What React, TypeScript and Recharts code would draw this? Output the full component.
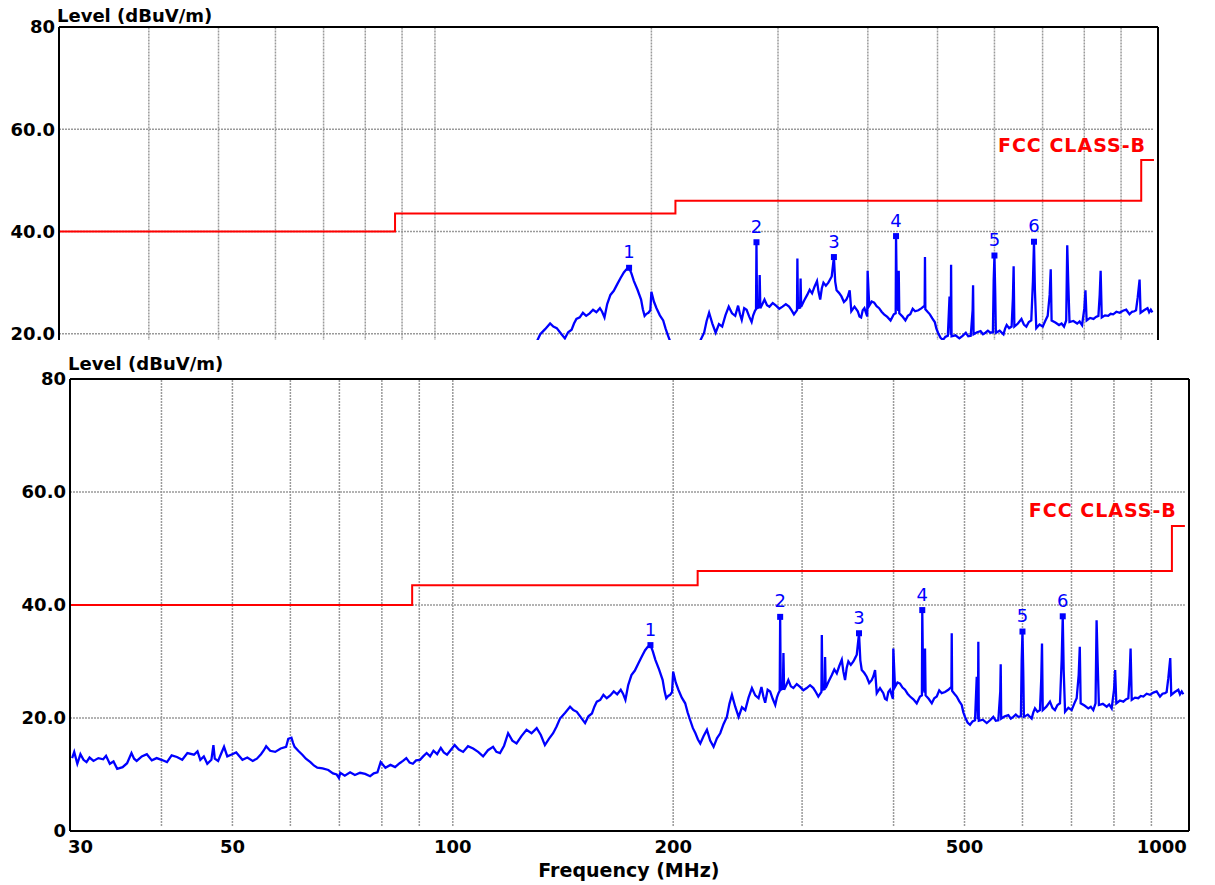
import React from 'react';
import { ComposedChart, Line, Scatter, XAxis, YAxis, ReferenceLine, ReferenceDot, LabelList } from 'recharts';

const traceFreq = [
  30.2, 30.4, 30.7, 31.0, 31.3, 31.6, 31.9, 32.3, 32.8, 33.3, 33.6, 34.0, 34.4, 34.8, 35.4, 35.9, 36.4, 36.7, 37.0, 37.6,
  38.2, 38.8, 39.4, 40.0, 40.7, 41.3, 42.0, 42.7, 43.4, 44.3, 44.8, 45.2, 45.7, 46.2, 46.8, 47.1, 47.3, 47.8, 48.3, 48.7,
  49.2, 49.8, 50.6, 51.6, 52.4, 53.3, 54.0, 54.7, 55.2, 55.6, 56.3, 57.2, 58.2, 59.2, 59.6, 60.2, 60.5, 60.8, 61.5, 62.3,
  63.0, 63.9, 64.6, 65.3, 66.4, 67.6, 68.6, 69.4, 69.9, 70.2, 71.2, 72.4, 73.5, 74.7, 75.9, 77.1, 78.0, 78.9, 79.7, 80.9,
  82.2, 83.4, 84.6, 85.5, 86.4, 87.3, 88.2, 89.1, 90.2, 91.1, 92.1, 93.1, 94.1, 95.2, 96.3, 97.2, 98.2, 99.3, 100.6, 101.9,
  103.3, 104.9, 106.6, 108.3, 110.0, 111.7, 113.5, 114.7, 116.0, 117.5, 119.0, 120.6, 122.2, 124.1, 126.1, 128.1, 130.2, 131.9, 133.6, 135.3,
  137.1, 138.6, 140.1, 142.3, 144.6, 146.1, 147.7, 149.6, 151.6, 153.2, 154.9, 156.1, 157.3, 159.0, 160.6, 162.3, 164.1, 165.9, 167.7, 169.6,
  170.8, 172.1, 173.6, 175.4, 177.3, 179.3, 181.2, 183.1, 184.6, 186.2, 187.6, 189.1, 191.3, 193.5, 194.6, 195.7, 196.9, 198.1, 199.3, 200.0,
  201.6, 203.3, 205.5, 207.7, 209.3, 211.0, 212.8, 214.5, 216.2, 217.8, 220.1, 222.4, 224.7, 227.1, 229.5, 231.9, 234.3, 236.8, 238.7, 240.6,
  243.1, 245.7, 248.3, 250.9, 253.5, 256.2, 258.9, 261.6, 264.0, 265.6, 267.1, 269.2, 271.3, 273.5, 275.7, 277.1, 278.5, 279.6, 280.0, 280.5,
  282.4, 282.9, 283.5, 285.4, 287.3, 289.6, 291.9, 295.0, 298.1, 301.2, 304.4, 307.6, 310.8, 313.2, 315.7, 318.8, 319.2, 319.8, 322.0, 322.5,
  323.1, 326.2, 329.4, 332.0, 334.6, 337.2, 339.9, 341.6, 343.4, 345.2, 347.0, 349.7, 352.5, 354.4, 356.3, 358.8, 360.3, 361.9, 364.7, 367.6,
  370.5, 373.4, 375.4, 377.4, 379.4, 383.3, 387.3, 389.4, 391.5, 393.5, 395.6, 399.2, 399.7, 401.8, 405.0, 408.2, 411.4, 414.7, 418.0, 421.3,
  425.7, 430.2, 434.7, 437.3, 437.8, 439.0, 441.0, 441.6, 442.4, 446.7, 451.1, 454.6, 458.2, 461.8, 465.4, 470.3, 475.2, 479.8, 480.3, 480.9,
  484.3, 487.9, 491.7, 495.6, 498.2, 500.8, 504.8, 508.8, 512.8, 516.8, 519.6, 521.6, 522.2, 523.0, 529.6, 536.2, 541.8, 547.4, 551.7, 556.1,
  559.5, 560.3, 561.2, 567.5, 573.9, 578.4, 582.9, 587.5, 592.1, 597.0, 598.5, 600.0, 601.5, 602.7, 610.1, 617.6, 620.8, 624.0, 628.9, 633.9,
  636.5, 638.0, 639.5, 646.8, 654.2, 659.3, 664.5, 669.8, 675.1, 678.7, 681.0, 683.0, 686.0, 693.2, 700.4, 705.9, 711.5, 716.0, 718.5, 720.5,
  729.2, 737.9, 743.8, 749.7, 755.0, 757.5, 760.0, 763.0, 772.5, 782.0, 788.1, 794.3, 800.2, 803.0, 806.0, 815.0, 824.0, 830.5, 837.0, 840.5,
  843.0, 846.0, 854.8, 863.6, 870.5, 877.5, 886.7, 896.0, 905.5, 915.0, 924.7, 932.0, 939.3, 944.2, 949.1, 955.0, 958.0, 968.7, 979.5, 984.7,
  990.0, 995.0,
];

const traceLevel = [
  12.9, 14.0, 11.9, 13.6, 12.6, 12.2, 13.0, 12.4, 12.9, 12.7, 13.3, 11.9, 12.3, 11.0, 11.3, 12.0, 13.8, 12.8, 12.4, 13.2,
  13.6, 12.5, 12.9, 12.6, 12.2, 13.4, 13.1, 12.6, 13.8, 13.5, 14.1, 12.6, 13.2, 11.9, 12.6, 15.2, 12.8, 12.4, 13.8, 14.9,
  13.2, 13.5, 13.9, 12.6, 13.0, 12.4, 12.8, 13.6, 14.3, 15.0, 14.2, 14.0, 14.6, 14.9, 16.3, 16.5, 15.6, 14.9, 14.2, 13.5,
  12.8, 12.2, 11.6, 11.2, 11.1, 10.8, 10.2, 10.0, 9.4, 10.3, 9.8, 10.4, 9.9, 10.3, 10.1, 9.7, 10.2, 10.4, 12.2, 11.2,
  11.7, 11.3, 12.0, 12.4, 12.9, 12.1, 11.9, 12.5, 12.6, 13.2, 13.8, 13.2, 14.2, 13.6, 14.7, 13.9, 13.5, 14.3, 15.2, 14.4,
  14.0, 15.0, 14.6, 14.0, 13.2, 14.3, 14.9, 14.0, 13.8, 15.1, 17.3, 16.0, 15.5, 16.8, 17.9, 17.3, 18.2, 17.0, 15.2, 16.3,
  17.3, 18.5, 19.9, 20.9, 22.0, 21.4, 21.1, 20.1, 19.1, 20.3, 20.8, 22.0, 22.9, 23.2, 24.1, 23.5, 24.0, 24.7, 24.2, 25.0,
  24.3, 23.2, 25.8, 27.6, 28.4, 29.7, 30.9, 32.0, 32.6, 32.9, 31.8, 30.3, 28.6, 26.7, 24.8, 23.5, 23.9, 24.1, 24.6, 28.2,
  26.3, 25.0, 23.6, 22.6, 21.0, 19.6, 18.2, 17.3, 16.2, 15.5, 16.8, 17.9, 16.0, 14.9, 16.4, 17.3, 18.9, 20.2, 22.5, 24.1,
  22.0, 20.2, 21.9, 21.4, 23.6, 25.3, 24.0, 23.5, 25.5, 23.8, 22.7, 25.0, 24.7, 23.4, 22.3, 23.6, 24.4, 24.8, 37.9, 25.0,
  25.2, 31.5, 25.0, 25.8, 26.7, 25.6, 25.3, 26.0, 25.5, 24.9, 25.3, 25.8, 25.3, 24.6, 23.8, 24.6, 34.7, 25.0, 25.1, 30.8,
  25.3, 26.5, 27.6, 28.6, 27.9, 29.2, 30.3, 28.2, 26.7, 28.9, 30.0, 29.4, 30.0, 30.6, 31.2, 35.0, 30.2, 28.5, 28.0, 27.3,
  26.2, 26.7, 27.4, 28.5, 24.4, 25.3, 24.4, 23.4, 23.2, 24.6, 25.0, 23.4, 32.3, 25.5, 26.3, 26.1, 25.4, 25.0, 24.3, 23.8,
  23.3, 22.6, 23.8, 24.0, 39.1, 26.0, 24.5, 32.3, 24.0, 23.4, 22.6, 23.5, 23.8, 24.9, 24.4, 24.6, 25.0, 25.5, 35.0, 24.8,
  24.3, 23.8, 23.0, 22.3, 21.0, 20.2, 19.2, 18.8, 19.4, 19.6, 27.3, 19.8, 33.5, 19.5, 19.7, 19.1, 19.6, 20.2, 19.5, 19.6,
  24.7, 29.5, 19.9, 20.3, 20.5, 19.9, 20.2, 20.6, 20.2, 20.3, 30.3, 35.3, 27.9, 20.2, 20.6, 19.9, 21.0, 21.7, 21.1, 21.4,
  27.0, 33.2, 21.4, 22.0, 22.9, 21.8, 21.4, 22.3, 22.6, 30.3, 38.0, 28.5, 21.1, 21.8, 21.4, 22.5, 23.5, 27.6, 32.6, 22.6,
  22.2, 21.7, 22.0, 21.4, 22.6, 37.3, 30.0, 22.3, 22.5, 22.0, 22.4, 21.7, 25.0, 28.5, 22.6, 23.1, 22.9, 23.3, 23.5, 27.6,
  32.3, 23.2, 23.6, 23.5, 23.9, 23.8, 24.3, 24.1, 24.5, 24.7, 23.8, 24.3, 24.4, 24.6, 27.0, 30.6, 24.1, 24.6, 25.0, 24.2,
  24.7, 24.2,
];

const limitFreq = [30, 88, 216, 960, 1000];
const limitLevel = [40, 43.5, 46, 54, 54];

const peakFreq = [186.2, 280.0, 358.8, 437.8, 600.0, 681.0];
const peakLevel = [32.9, 37.9, 35.0, 39.1, 35.3, 38.0];
const peakLabel = ['1', '2', '3', '4', '5', '6'];

const xTicks = [30, 50, 100, 200, 500, 1000];
const xGrid = [40, 50, 60, 70, 80, 90, 100, 200, 300, 400, 500, 600, 700, 800, 900];
const yTicks = [0, 20, 40, 60, 80];
const yTicksTop = [20, 40, 60, 80];
const yGrid = [20, 40, 60];

const limitName = 'FCC CLASS-B';
const yTitle = 'Level (dBuV/m)';
const xTitle = 'Frequency (MHz)';

const trace = traceFreq.map((f, i) => ({ f, v: traceLevel[i] }));
const limit = limitFreq.map((f, i) => ({ f, v: limitLevel[i] }));
const peaks = peakFreq.map((f, i) => ({ f, v: peakLevel[i], label: peakLabel[i] }));

const FONT = 'DejaVu Sans';
const X_MAX = 1013;

const fmtY = (v: number) => (v === 0 || v === 80 ? String(v) : v.toFixed(1));

const XTick = (props: any) => {
  const { x, y, payload } = props;
  const v = payload.value;
  const anchor = v === 30 ? 'start' : v === 1000 ? 'end' : 'middle';
  const dx = v === 30 ? -2 : v === 1000 ? 2 : 0;
  return (
    <text x={x + dx} y={y} dy={14} textAnchor={anchor} fill="#000" fontSize={18} fontWeight="bold" fontFamily={FONT}>
      {v}
    </text>
  );
};

const Square = (props: any) => {
  const { cx, cy } = props;
  return <rect x={cx - 3} y={cy - 3} width={6} height={6} fill="#0000ff" />;
};

const textAt = (txt: string, dx: number, dy: number, anchor: string, extra: any) => (p: any) => {
  const vb = p.viewBox || {};
  return (
    <text x={(vb.x || 0) + dx} y={(vb.y || 0) + dy} textAnchor={anchor} fontFamily={FONT} fontWeight="bold" {...extra}>
      {txt}
    </text>
  );
};

type ChartProps = {
  height: number;
  margin: { top: number; right: number; bottom: number; left: number };
  yAxisWidth: number;
  titleDy: number;
  showX: boolean;
  yTickList: number[];
};

const EmiChart = ({ height, margin, yAxisWidth, titleDy, showX, yTickList }: ChartProps) => (
  <ComposedChart width={1215} height={height} margin={margin}>
    <XAxis
      type="number"
      dataKey="f"
      scale="log"
      domain={[30, X_MAX]}
      allowDataOverflow
      ticks={xTicks}
      tick={showX ? <XTick /> : false}
      tickLine={false}
      tickSize={6}
      tickMargin={2}
      height={40}
      axisLine={{ stroke: '#000', strokeWidth: 2 }}
    />
    <YAxis
      type="number"
      domain={[0, 80]}
      ticks={yTickList}
      tickFormatter={fmtY}
      width={yAxisWidth}
      tickLine={false}
      tickSize={4}
      tickMargin={0}
      interval={0}
      axisLine={{ stroke: '#000', strokeWidth: 2 }}
      tick={{ fill: '#000', fontSize: 18, fontWeight: 'bold', fontFamily: FONT }}
    />
    {xGrid.map((g) => (
      <ReferenceLine
        key={'vx' + g}
        segment={[{ x: g, y: 0.9 }, { x: g, y: 80 }]}
        stroke="#9a9a9a"
        strokeWidth={1.5}
        strokeDasharray="2 1"
      />
    ))}
    {yGrid.map((g) => (
      <ReferenceLine
        key={'hy' + g}
        segment={[{ x: 30, y: g }, { x: 1000, y: g }]}
        stroke="#9a9a9a"
        strokeWidth={1.5}
        strokeDasharray="2 1"
      />
    ))}
    <ReferenceLine y={80} stroke="#000" strokeWidth={2} />
    <ReferenceLine x={X_MAX} stroke="#000" strokeWidth={2} />
    <Line
      data={limit}
      dataKey="v"
      type="stepAfter"
      stroke="#ff0000"
      strokeWidth={2}
      dot={false}
      isAnimationActive={false}
    />
    <Line
      data={trace}
      dataKey="v"
      type="linear"
      stroke="#0000ff"
      strokeWidth={2.3}
      dot={false}
      isAnimationActive={false}
    />
    <Scatter data={peaks} dataKey="v" shape={<Square />} isAnimationActive={false}>
      <LabelList dataKey="label" position="top" offset={5} fill="#0000ff" fontSize={18} fontFamily={FONT} />
    </Scatter>
    <ReferenceDot
      x={975}
      y={55.5}
      r={0}
      fill="none"
      stroke="none"
      label={textAt(limitName, 0, 0, 'end', { fill: '#ff0000', fontSize: 19, letterSpacing: 1 })}
    />
    <ReferenceDot
      x={30}
      y={80}
      r={0}
      fill="none"
      stroke="none"
      label={textAt(yTitle, -2, titleDy, 'start', { fill: '#000', fontSize: 18 })}
    />
    {showX && (
      <ReferenceDot
        x={174}
        y={0}
        r={0}
        fill="none"
        stroke="none"
        label={textAt(xTitle, 0, 46, 'middle', { fill: '#000', fontSize: 19 })}
      />
    )}
  </ComposedChart>
);

export default function App() {
  return (
    <div style={{ position: 'relative', width: 1215, height: 885, background: '#fff', overflow: 'hidden' }}>
      <style>{'body{margin:0}'}</style>
      <div style={{ position: 'absolute', left: 0, top: 0, width: 1215, height: 340, overflow: 'hidden', background: '#fff' }}>
        <EmiChart
          height={500}
          margin={{ top: 27, right: 57, bottom: 24, left: 9 }}
          yAxisWidth={50}
          titleDy={-5}
          showX={false}
          yTickList={yTicksTop}
        />
      </div>
      <div style={{ position: 'absolute', left: 0, top: 340, width: 1215, height: 545, overflow: 'hidden', background: '#fff' }}>
        <EmiChart
          height={545}
          margin={{ top: 39, right: 26, bottom: 14, left: 10 }}
          yAxisWidth={60}
          titleDy={-9}
          showX={true}
          yTickList={yTicks}
        />
      </div>
    </div>
  );
}
